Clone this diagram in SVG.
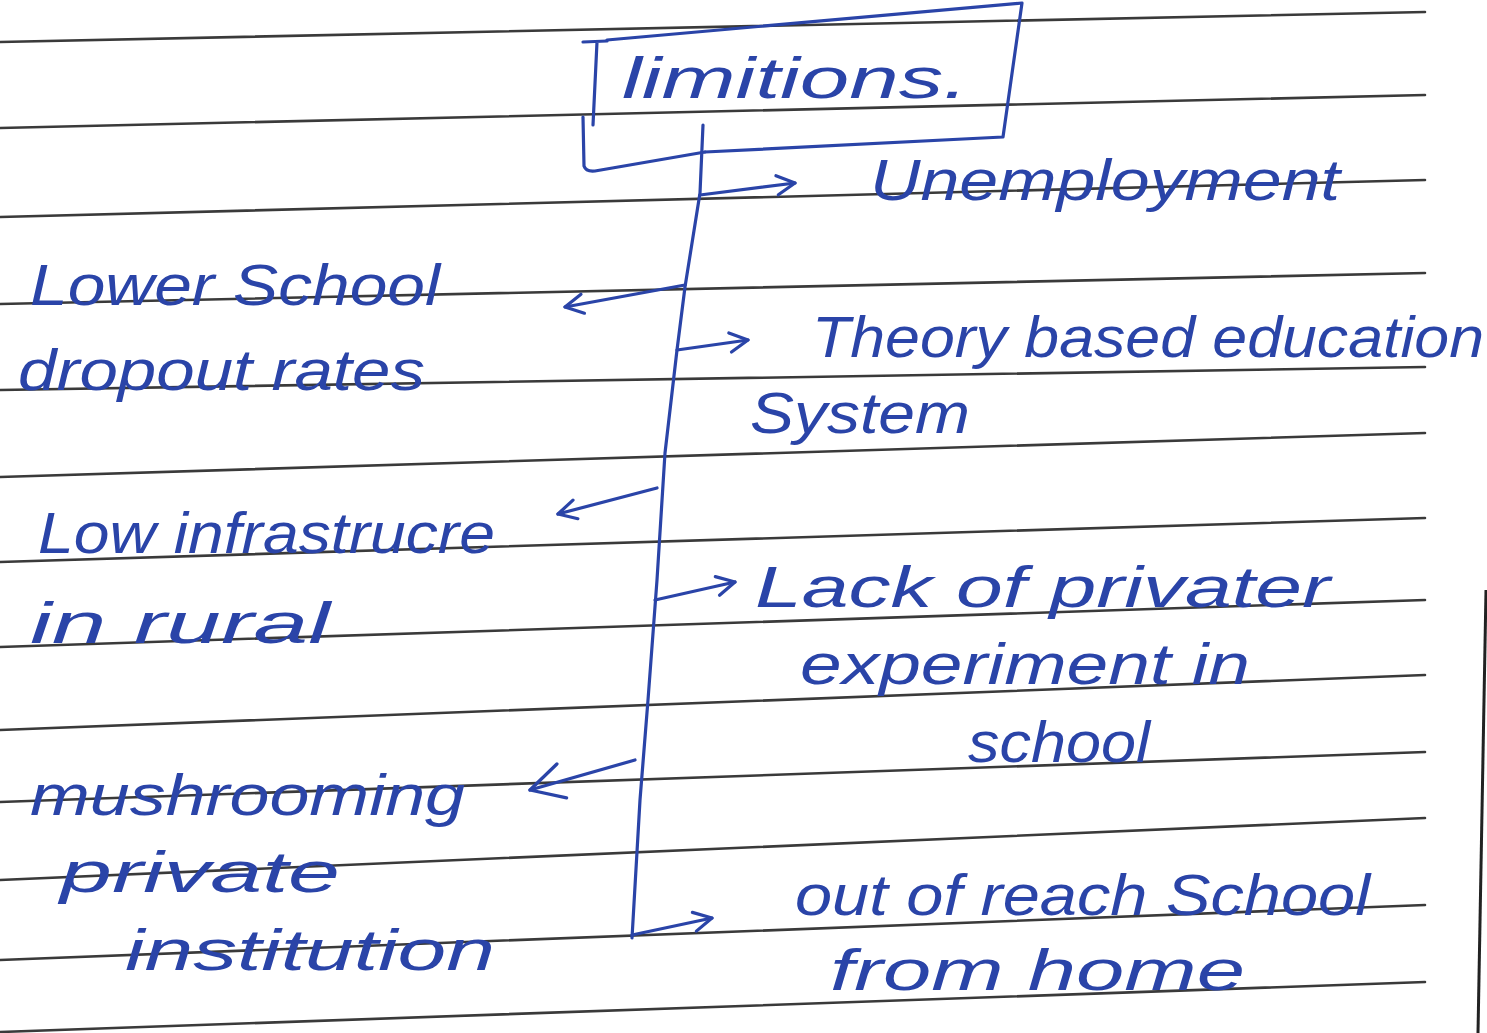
<svg xmlns="http://www.w3.org/2000/svg" width="1487" height="1033" viewBox="0 0 1487 1033">
<style>
.rule{stroke:#3a3a3a;stroke-width:2.6;fill:none;stroke-linecap:round}
.ink{stroke:#2a44a8;stroke-width:3.2;fill:none;stroke-linecap:round;stroke-linejoin:round}
.t{font-family:"Liberation Sans",Arial,sans-serif;font-style:italic;fill:#2a44a8;font-size:58px}
</style>
<defs>
<marker id="ah" viewBox="0 0 20 20" refX="18" refY="10" markerWidth="24" markerHeight="24" markerUnits="userSpaceOnUse" orient="auto">
<path d="M3,2 L18,10 L3,18" fill="none" stroke="#2a44a8" stroke-width="2.7" stroke-linecap="round" stroke-linejoin="round"/>
</marker>
<marker id="ahL" viewBox="0 0 20 20" refX="18" refY="10" markerWidth="44" markerHeight="44" markerUnits="userSpaceOnUse" orient="auto">
<path d="M3,2 L18,10 L3,18" fill="none" stroke="#2a44a8" stroke-width="1.5" stroke-linecap="round" stroke-linejoin="round"/>
</marker>
</defs>
<rect width="1487" height="1033" fill="#ffffff"/>
<g id="paper">
<path class="rule" d="M0,42 L1425,12"/>
<path class="rule" d="M0,128 L1425,95"/>
<path class="rule" d="M0,217 L1425,180"/>
<path class="rule" d="M0,304 L1425,273"/>
<path class="rule" d="M0,390 L1425,367"/>
<path class="rule" d="M0,477 L1425,433"/>
<path class="rule" d="M0,562 L1425,518"/>
<path class="rule" d="M0,647 L1425,600"/>
<path class="rule" d="M0,730 L1425,675"/>
<path class="rule" d="M0,802 L1425,752"/>
<path class="rule" d="M0,880 L1425,818"/>
<path class="rule" d="M0,960 L1425,905"/>
<path class="rule" d="M0,1032 L1425,982"/>
<path d="M1486,590 L1478,1033" stroke="#222" stroke-width="3" fill="none"/>
</g>
<g id="root">
<path class="ink" d="M583,42 L607,41 M597,42 L593,125"/>
<path class="ink" d="M607,40 L1022,3 L1003,137 L705,152"/>
<path class="ink" d="M583,117 L584,166 Q586,172 595,171 L705,152"/>
<text class="t" x="622" y="98" font-size="60" textLength="346" lengthAdjust="spacingAndGlyphs">limitions.</text>
</g>
<g id="unemployment">
<text class="t" x="870" y="200" font-size="60" textLength="470" lengthAdjust="spacingAndGlyphs">Unemployment</text>
</g>
<g id="lower-school">
<text class="t" x="30" y="305" font-size="62" textLength="410" lengthAdjust="spacingAndGlyphs">Lower School</text>
<text class="t" x="18" y="390" font-size="60" textLength="407" lengthAdjust="spacingAndGlyphs">dropout rates</text>
</g>
<g id="theory">
<text class="t" x="812" y="357" font-size="62" textLength="672" lengthAdjust="spacingAndGlyphs">Theory based education</text>
<text class="t" x="750" y="433" font-size="58" textLength="220" lengthAdjust="spacingAndGlyphs">System</text>
</g>
<g id="low-infra">
<text class="t" x="38" y="553" font-size="60" textLength="457" lengthAdjust="spacingAndGlyphs">Low infrastrucre</text>
<text class="t" x="30" y="643" font-size="60" textLength="300" lengthAdjust="spacingAndGlyphs">in rural</text>
</g>
<g id="lack">
<text class="t" x="755" y="607" font-size="60" textLength="575" lengthAdjust="spacingAndGlyphs">Lack of privater</text>
<text class="t" x="800" y="684" font-size="58" textLength="450" lengthAdjust="spacingAndGlyphs">experiment in</text>
<text class="t" x="968" y="762" font-size="60" textLength="182" lengthAdjust="spacingAndGlyphs">school</text>
</g>
<g id="mushrooming">
<text class="t" x="30" y="815" font-size="60" textLength="435" lengthAdjust="spacingAndGlyphs">mushrooming</text>
<text class="t" x="60" y="892" font-size="62" textLength="280" lengthAdjust="spacingAndGlyphs">private</text>
<text class="t" x="125" y="970" font-size="60" textLength="370" lengthAdjust="spacingAndGlyphs">institution</text>
</g>
<g id="out-of-reach">
<text class="t" x="795" y="915" font-size="60" textLength="575" lengthAdjust="spacingAndGlyphs">out of reach School</text>
<text class="t" x="830" y="990" font-size="60" textLength="415" lengthAdjust="spacingAndGlyphs">from home</text>
</g>
<g id="connectors">
<path class="ink" d="M703,125 L700,193 L685,287 L677,350 L665,453 L657,580 L648,700 L640,800 L632,938"/>
<path class="ink" d="M700,195 L795,183" marker-end="url(#ah)"/>
<path class="ink" d="M685,285 L565,307" marker-end="url(#ah)"/>
<path class="ink" d="M677,350 L748,340" marker-end="url(#ah)"/>
<path class="ink" d="M657,488 L558,514" marker-end="url(#ah)"/>
<path class="ink" d="M655,600 L735,582" marker-end="url(#ah)"/>
<path class="ink" d="M635,760 L530,790" marker-end="url(#ahL)"/>
<path class="ink" d="M632,935 L712,918" marker-end="url(#ah)"/>
</g>
</svg>
